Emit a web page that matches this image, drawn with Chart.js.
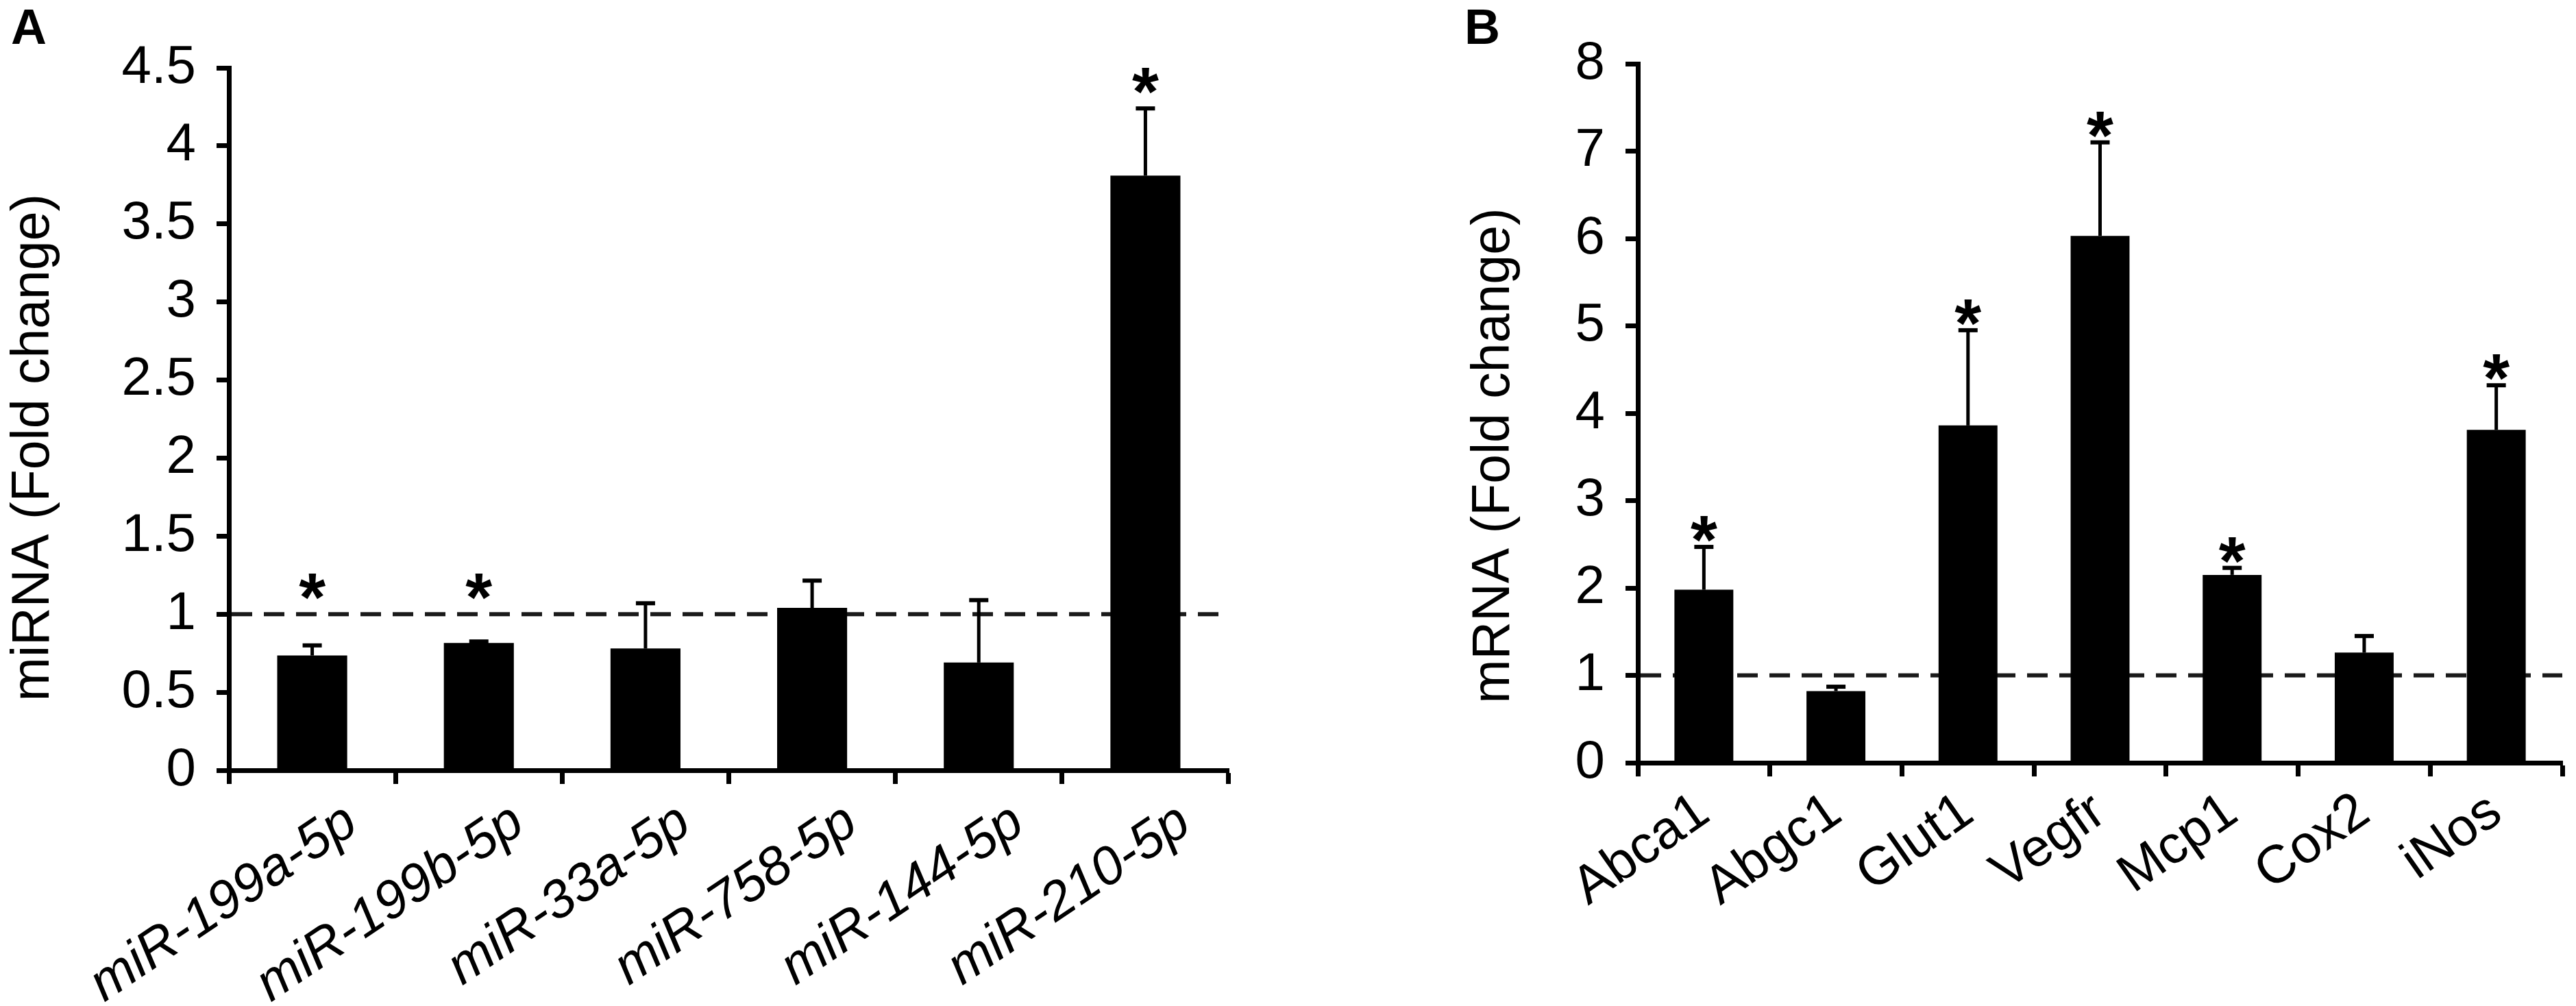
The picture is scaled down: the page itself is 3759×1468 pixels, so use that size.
<!DOCTYPE html>
<html>
<head>
<meta charset="utf-8">
<script src="https://cdn.jsdelivr.net/npm/chart.js@4.4.1/dist/chart.umd.min.js"></script>
<style>
html, body { margin: 0; padding: 0; background: #fff; }
body { width: 3759px; height: 1468px; position: relative; overflow: hidden; font-family: "Liberation Sans", Arial, sans-serif; }
.panel { position: absolute; top: 0; height: 1468px; }
#wrapA { left: 0; width: 1880px; }
#wrapB { left: 2100px; width: 1659px; }
.tag { position: absolute; top: 3px; font-weight: bold; font-size: 72px; line-height: 1; }
</style>
</head>
<body>
<div class="tag" style="left:16px">A</div>
<div class="tag" style="left:2137px">B</div>
<div class="panel" id="wrapA"><canvas id="chartA"></canvas></div>
<div class="panel" id="wrapB"><canvas id="chartB"></canvas></div>
<script>
// panel A - miRNA
var mirLabels = ['miR-199a-5p', 'miR-199b-5p', 'miR-33a-5p', 'miR-758-5p', 'miR-144-5p', 'miR-210-5p'];
var mirValues = [0.735, 0.815, 0.78, 1.04, 0.69, 3.81];
var mirErrors = [0.065, 0.01, 0.29, 0.175, 0.40, 0.43];
var mirSig = [true, true, false, false, false, true];
var mirTicks = [0, 0.5, 1, 1.5, 2, 2.5, 3, 3.5, 4, 4.5];

// panel B - mRNA
var mrnaLabels = ['Abca1', 'Abgc1', 'Glut1', 'Vegfr', 'Mcp1', 'Cox2', 'iNos'];
var mrnaValues = [1.98, 0.82, 3.86, 6.03, 2.15, 1.26, 3.81];
var mrnaErrors = [0.49, 0.05, 1.09, 1.07, 0.08, 0.19, 0.51];
var mrnaSig = [true, false, true, true, true, false, true];
var mrnaTicks = [0, 1, 2, 3, 4, 5, 6, 7, 8];

var FONT = 'Liberation Sans';

// dashed line at fold change = 1, under the bars
var refLine = {
	id: 'refLine',
	beforeDatasetsDraw: function (chart) {
		var ctx = chart.ctx, a = chart.chartArea;
		var y = chart.scales.y.getPixelForValue(1);
		ctx.save();
		ctx.strokeStyle = '#1a1a1a';
		ctx.lineWidth = 6;
		ctx.setLineDash([30, 17]);
		ctx.beginPath();
		ctx.moveTo(a.left + 4, y);
		ctx.lineTo(a.right, y);
		ctx.stroke();
		ctx.restore();
	}
};

// upper error bars + asterisks
var errBars = {
	id: 'errBars',
	afterDatasetsDraw: function (chart, args, opts) {
		var ctx = chart.ctx, ys = chart.scales.y;
		var ds = chart.data.datasets[0];
		var meta = chart.getDatasetMeta(0);
		ctx.save();
		ctx.fillStyle = '#000';
		meta.data.forEach(function (bar, i) {
			var hi = ds.data[i] + ds.errors[i];
			var top = ys.getPixelForValue(hi);
			ctx.fillRect(bar.x - 2.5, top, 5, bar.y - top);
			ctx.fillRect(bar.x - 14, top - 3, 28, 6);
			if (ds.sig[i]) {
				var cy = ys.getPixelForValue(Math.max(hi, 1)) - opts.gap;
				ctx.font = 'bold 100px "' + FONT + '"';
				ctx.textAlign = 'center';
				ctx.textBaseline = 'alphabetic';
				ctx.fillText('*', bar.x, cy + 57);
			}
		});
		ctx.restore();
	}
};

// y axis title, drawn a little below the axis middle as in the figure
var yTitle = {
	id: 'yTitle',
	afterDraw: function (chart, args, opts) {
		var ctx = chart.ctx;
		ctx.save();
		ctx.translate(opts.x, opts.y);
		ctx.rotate(-Math.PI / 2);
		ctx.font = '77px "' + FONT + '"';
		ctx.fillStyle = '#000';
		ctx.textAlign = 'center';
		ctx.textBaseline = 'middle';
		ctx.fillText(opts.text, 0, 0);
		ctx.restore();
	}
};

function buildChart(id, labels, values, errors, sig, ticks, cfg) {
	return new Chart(document.getElementById(id), {
		type: 'bar',
		data: {
			labels: labels,
			datasets: [{
				data: values,
				errors: errors,
				sig: sig,
				backgroundColor: '#000',
				borderWidth: 0,
				barPercentage: cfg.barPct,
				categoryPercentage: 1
			}]
		},
		options: {
			responsive: true,
			maintainAspectRatio: false,
			animation: false,
			events: [],
			layout: { padding: { left: cfg.padLeft, right: cfg.padRight, top: cfg.padTop, bottom: 0 } },
			plugins: {
				legend: { display: false },
				tooltip: { enabled: false },
				errBars: { gap: cfg.gap },
				yTitle: { text: cfg.title, x: cfg.titleX, y: cfg.titleY }
			},
			scales: {
				x: {
					grid: { drawOnChartArea: false, drawTicks: true, tickLength: 20, tickWidth: 7, tickColor: '#000', offset: true },
					border: { display: true, color: '#000', width: 7 },
					ticks: {
						autoSkip: false,
						minRotation: cfg.rot,
						maxRotation: cfg.rot,
						labelOffset: cfg.labelOffset,
						color: '#000',
						padding: cfg.xPad,
						font: { family: FONT, size: 78, style: cfg.xStyle }
					},
					afterFit: function (s) { s.height = cfg.xHeight; }
				},
				y: {
					min: ticks[0],
					max: ticks[ticks.length - 1],
					afterBuildTicks: function (s) {
						s.ticks = ticks.map(function (v) { return { value: v }; });
					},
					grid: { drawOnChartArea: false, drawTicks: true, tickLength: 18, tickWidth: 7, tickColor: '#000' },
					border: { display: true, color: '#000', width: 7 },
					ticks: {
						color: '#000',
						padding: 30,
						font: { family: FONT, size: 78 },
						callback: function (v) { return String(v); }
					},
					afterFit: function (s) { s.width = cfg.yWidth; }
				}
			}
		},
		plugins: [refLine, errBars, yTitle]
	});
}

buildChart('chartA', mirLabels, mirValues, mirErrors, mirSig, mirTicks, {
	barPct: 0.42, padLeft: 0, padRight: 87, padTop: 99, yWidth: 334, xHeight: 344,
	rot: 34, labelOffset: 58, xPad: 10, xStyle: 'italic',
	title: 'miRNA (Fold change)', titleX: 50, titleY: 653, gap: 47
});

buildChart('chartB', mrnaLabels, mrnaValues, mrnaErrors, mrnaSig, mrnaTicks, {
	barPct: 0.446, padLeft: 30, padRight: 20, padTop: 93, yWidth: 260, xHeight: 355,
	rot: 35, labelOffset: 0, xPad: 6, xStyle: 'normal',
	title: 'mRNA (Fold change)', titleX: 81, titleY: 665, gap: 33
});
</script>
</body>
</html>
